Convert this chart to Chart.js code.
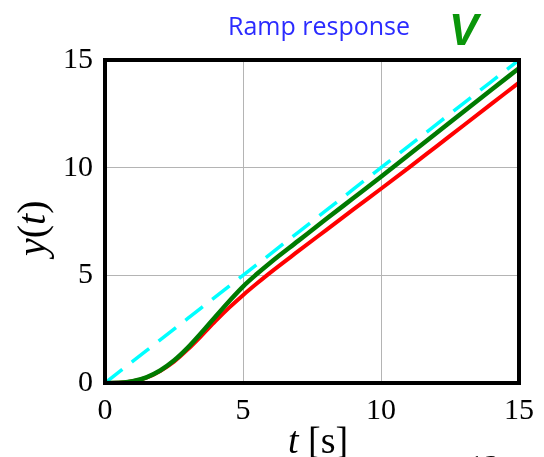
<!DOCTYPE html>
<html>
<head>
<meta charset="utf-8">
<script src="https://cdn.jsdelivr.net/npm/chart.js@4.4.1/dist/chart.umd.min.js"></script>
<style>
  html, body { margin: 0; padding: 0; background: #fff; }
  #wrap { width: 544px; height: 457px; position: relative; }
</style>
</head>
<body>
<div id="wrap"><canvas id="chart" width="544" height="457"></canvas></div>
<script>
// time samples [s]
const times = [0, 0.5, 1, 1.5, 2, 2.5, 3, 3.5, 4, 4.5, 5, 5.5, 6, 7, 8, 9, 10, 11, 12, 13, 14, 15];
// reference ramp r(t) = t
const rampRef = [0, 0.5, 1, 1.5, 2, 2.5, 3, 3.5, 4, 4.5, 5, 5.5, 6, 7, 8, 9, 10, 11, 12, 13, 14, 15];
// responses
const greenResp = [0, 0.01, 0.08, 0.26, 0.58, 1.04, 1.64, 2.34, 3.08, 3.8, 4.48, 5.06, 5.6, 6.6, 7.6, 8.59, 9.58, 10.59, 11.6, 12.61, 13.62, 14.62];
const redResp = [0, 0.01, 0.08, 0.25, 0.56, 0.99, 1.56, 2.2, 2.87, 3.5, 4.08, 4.62, 5.14, 6.12, 7.09, 8.06, 9.02, 9.99, 10.98, 11.97, 12.96, 13.95];
const xTicks = [0, 5, 10, 15];
const yTicks = [0, 5, 10, 15];

const toXY = arr => times.map((t, i) => ({ x: t, y: arr[i] }));

const serif = '"Liberation Serif", "DejaVu Serif", serif';

// frame + axis titles + slide decorations
const decorations = {
  id: 'decorations',
  afterDatasetsDraw(chart) {
    const { ctx, chartArea: a } = chart;
    ctx.save();
    ctx.strokeStyle = '#000';
    ctx.lineWidth = 4;
    ctx.strokeRect(a.left, a.top, a.right - a.left, a.bottom - a.top);
    ctx.restore();
  },
  afterDraw(chart) {
    const { ctx } = chart;
    ctx.save();
    ctx.fillStyle = '#000';
    ctx.textBaseline = 'alphabetic';

    // x title: t [s]
    ctx.font = 'italic 38px ' + serif;
    ctx.fillText('t', 288, 453);
    let w = ctx.measureText('t').width;
    ctx.font = '38px ' + serif;
    ctx.fillText(' [s]', 288 + w, 453);

    // y title: y(t), rotated
    ctx.translate(45, 256);
    ctx.rotate(-Math.PI / 2);
    let x = 0;
    const parts = [['y', true], ['(', false], ['t', true], [')', false]];
    parts.forEach(([s, it]) => {
      ctx.font = (it ? 'italic ' : '') + '40px ' + serif;
      ctx.fillText(s, x, 0);
      x += ctx.measureText(s).width;
    });
    ctx.setTransform(1, 0, 0, 1, 0, 0);

    // title
    ctx.fillStyle = '#2b2bff';
    ctx.font = '25px "Open Sans", sans-serif';
    ctx.textAlign = 'left';
    ctx.fillText('Ramp response', 228, 35);

    // check mark
    ctx.fillStyle = '#0a960a';
    ctx.font = 'bold italic 44px "Liberation Sans", sans-serif';
    ctx.fillText('V', 449, 45);

    // page number cut off at bottom
    ctx.fillStyle = '#000';
    ctx.font = '32px ' + serif;
    ctx.fillText('12', 468, 477);
    ctx.restore();
  }
};

new Chart(document.getElementById('chart'), {
  type: 'line',
  data: {
    datasets: [
      {
        label: 'ramp',
        data: toXY(rampRef),
        borderColor: '#00ffff',
        borderWidth: 3.5,
        borderDash: [22, 12],
        pointRadius: 0,
        order: 3
      },
      {
        label: 'red',
        data: toXY(redResp),
        borderColor: '#ff0000',
        borderWidth: 4,
        pointRadius: 0,
        cubicInterpolationMode: 'monotone',
        order: 2
      },
      {
        label: 'green',
        data: toXY(greenResp),
        borderColor: '#007a00',
        borderWidth: 4.5,
        pointRadius: 0,
        cubicInterpolationMode: 'monotone',
        order: 1
      }
    ]
  },
  options: {
    responsive: false,
    animation: false,
    layout: { padding: { top: 60, right: 24, left: 0, bottom: 0 } },
    plugins: {
      legend: { display: false },
      title: { display: false },
      tooltip: { enabled: false }
    },
    scales: {
      x: {
        type: 'linear',
        min: 0,
        max: 15,
        afterBuildTicks: s => { s.ticks = xTicks.map(v => ({ value: v })); },
        afterFit: s => { s.height = 74; },
        grid: { color: '#b4b4b4', lineWidth: 1, drawTicks: false },
        border: { display: false },
        ticks: { color: '#000', padding: 10, font: { family: serif, size: 30 } }
      },
      y: {
        type: 'linear',
        min: 0,
        max: 15,
        afterBuildTicks: s => { s.ticks = yTicks.map(v => ({ value: v })); },
        afterFit: s => { s.width = 105; },
        grid: { color: '#b4b4b4', lineWidth: 1, drawTicks: false },
        border: { display: false },
        ticks: { color: '#000', padding: 12, font: { family: serif, size: 30 } }
      }
    }
  },
  plugins: [decorations]
});
</script>
</body>
</html>
